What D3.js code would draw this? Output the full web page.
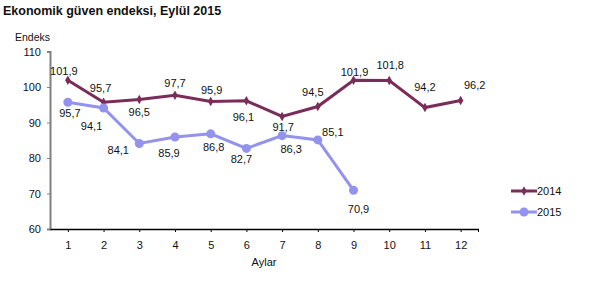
<!DOCTYPE html>
<html><head><meta charset="utf-8">
<script src="https://cdn.jsdelivr.net/npm/d3@7"></script>
<style>
html,body{margin:0;padding:0;background:#fff;}
svg{display:block;font-family:"Liberation Sans",Arial,sans-serif;}
</style></head>
<body>
<svg id="c" width="600" height="282"></svg>
<script>
const months = ["1","2","3","4","5","6","7","8","9","10","11","12"];
const values2014 = [101.9, 95.7, 96.5, 97.7, 95.9, 96.1, 91.7, 94.5, 101.9, 101.8, 94.2, 96.2];
const values2015 = [95.7, 94.1, 84.1, 85.9, 86.8, 82.7, 86.3, 85.1, 70.9];
const yTicks = [60, 70, 80, 90, 100, 110];
const seriesNames = ["2014", "2015"];
const titleText = "Ekonomik güven endeksi, Eylül 2015";
const yTitle = "Endeks";
const xTitle = "Aylar";

// label offsets (layout only): [dx, dy] relative to point, dy is label center
const off2014 = [[-4,-9],[-3,-14],[0,13],[0,-12],[1,-11],[-3,16],[1,11],[-5,-14],[1,-8],[1,-15],[0,-20],[14,-15]];
const off2015 = [[2,11],[-12,18],[-21,7],[-6,16],[3,13],[-5,11],[9,14],[15,-8],[5,19]];

const col2014 = "#7B2D5A", col2015 = "#9393EE";
const svg = d3.select("#c");
const x = d3.scalePoint().domain(months).range([50, 478.5]).padding(0.5);
const y = d3.scaleLinear().domain([60, 110]).range([229, 51.5]);
const fmt = v => d3.format(".1f")(v).replace(".", ",");

svg.append("text").attr("x", 3).attr("y", 15).attr("font-size", 12.5).attr("font-weight", "bold")
  .attr("letter-spacing", 0).attr("fill", "#111").text(titleText);
svg.append("text").attr("x", 15).attr("y", 41).attr("font-size", 10.5).attr("fill", "#111").text(yTitle);

// y axis
const ya = svg.append("g").attr("transform", "translate(50,0)")
  .call(d3.axisLeft(y).tickValues(yTicks).tickSize(3).tickPadding(6).tickFormat(d3.format("d")));
ya.select(".domain").attr("stroke", "#808080").attr("stroke-width", 2);
ya.selectAll(".tick line").attr("stroke", "#808080");
ya.selectAll(".tick text").attr("font-size", 11).attr("fill", "#111").attr("font-family", "Liberation Sans, Arial");

// x axis
const xa = svg.append("g").attr("transform", "translate(0,229)")
  .call(d3.axisBottom(x).tickSize(3).tickPadding(9).tickSizeOuter(0));
xa.select(".domain").attr("stroke", "#000").attr("stroke-width", 1.3);
xa.selectAll(".tick line").attr("stroke", "#000");
xa.selectAll(".tick text").attr("font-size", 11).attr("fill", "#111").attr("font-family", "Liberation Sans, Arial");
xa.append("line").attr("x1", 478.5).attr("x2", 478.5).attr("y1", 0).attr("y2", 3).attr("stroke", "#000");
svg.append("text").attr("x", 264).attr("y", 266).attr("text-anchor", "middle").attr("font-size", 11).attr("fill", "#111").text(xTitle);

const line = d3.line().x((d, i) => x(months[i])).y(d => y(d));
const diamond = d3.symbol().type(d3.symbolDiamond).size(26);

// 2014
svg.append("path").datum(values2014).attr("d", line).attr("fill", "none").attr("stroke", col2014).attr("stroke-width", 3);
svg.selectAll(".m14").data(values2014).enter().append("path")
  .attr("d", diamond).attr("transform", (d, i) => `translate(${x(months[i])},${y(d)})`).attr("fill", col2014);
// 2015
svg.append("path").datum(values2015).attr("d", line).attr("fill", "none").attr("stroke", col2015).attr("stroke-width", 3);
svg.selectAll(".m15").data(values2015).enter().append("circle")
  .attr("cx", (d, i) => x(months[i])).attr("cy", d => y(d)).attr("r", 4.5).attr("fill", col2015);

// labels
svg.selectAll(".l14").data(values2014).enter().append("text")
  .attr("x", (d, i) => x(months[i]) + off2014[i][0]).attr("y", (d, i) => y(d) + off2014[i][1])
  .attr("dy", "0.35em").attr("text-anchor", "middle").attr("font-size", 11).attr("fill", "#111").text(fmt);
svg.selectAll(".l15").data(values2015).enter().append("text")
  .attr("x", (d, i) => x(months[i]) + off2015[i][0]).attr("y", (d, i) => y(d) + off2015[i][1])
  .attr("dy", "0.35em").attr("text-anchor", "middle").attr("font-size", 11).attr("fill", "#111").text(fmt);

// legend
const lg = svg.append("g");
[[col2014, 191, "d"], [col2015, 212, "c"]].forEach(([c, yy, m], k) => {
  lg.append("line").attr("x1", 511).attr("x2", 537).attr("y1", yy).attr("y2", yy).attr("stroke", c).attr("stroke-width", 3);
  if (m === "d") lg.append("path").attr("d", diamond).attr("transform", `translate(524,${yy})`).attr("fill", c);
  else lg.append("circle").attr("cx", 524).attr("cy", yy).attr("r", 4.5).attr("fill", c);
  lg.append("text").attr("x", 537).attr("y", yy).attr("dy", "0.35em").attr("font-size", 11).attr("fill", "#111").text(seriesNames[k]);
});
</script>
</body></html>
